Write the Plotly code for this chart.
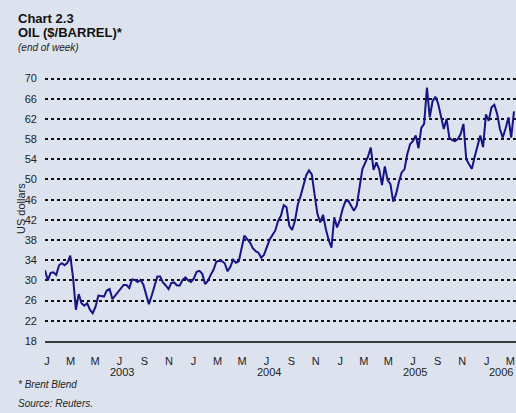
import pandas as pd
import plotly.graph_objects as go

# Weekly Brent oil price, $/barrel (end of week), first week ending 27 Dec 2002
first_week = "2002-12-27"
oil = [
    32.0, 30.0, 31.5, 31.6, 31.1, 33.0, 33.4, 33.0, 33.5, 34.9,
    30.5, 24.2, 27.3, 25.5, 25.0, 25.5, 24.2, 23.5, 24.8, 27.0,
    26.9, 26.8, 28.0, 28.3, 26.3, 27.0, 27.9, 28.6, 29.1, 29.1,
    28.5, 30.2, 30.1, 29.7, 30.1, 29.2, 27.2, 25.3, 27.0, 29.0,
    30.8, 30.8, 29.6, 29.0, 28.3, 29.5, 29.6, 29.0, 29.0, 30.1,
    30.6, 30.0, 29.7, 30.4, 31.7, 31.9, 31.3, 29.3, 29.9, 31.1,
    32.1, 33.7, 33.9, 33.8, 33.4, 31.8, 32.7, 34.1, 33.5, 33.8,
    36.4, 38.9, 38.2, 37.5, 36.4, 35.8, 35.5, 34.5, 35.1, 36.5,
    38.1, 39.0, 39.9, 41.8, 42.8, 44.9, 44.5, 40.8, 40.0, 41.8,
    45.0, 46.7, 48.8, 50.8, 51.8, 51.0, 47.0, 43.2, 41.5, 43.0,
    40.2, 38.0, 36.5, 42.5, 40.5, 42.0, 44.2, 45.7, 45.8, 44.8,
    43.8, 44.8, 48.2, 52.0, 53.3, 54.5, 56.3, 51.9, 53.4, 52.0,
    48.9, 52.6, 49.9, 49.1, 45.6, 47.1, 49.5, 51.4, 52.0, 55.0,
    57.0, 57.6, 58.7, 56.2, 60.2, 61.0, 68.2, 62.3, 65.5, 66.4,
    65.0, 62.5, 60.0, 62.0, 58.2, 57.8, 57.6, 58.0, 59.0, 61.0,
    54.0, 53.0, 52.1, 54.5, 56.5, 58.7, 56.4, 62.9, 61.6, 64.3,
    64.8, 63.0, 60.0, 58.3, 60.1, 62.3, 58.3, 63.5,
]
dates = pd.date_range(first_week, periods=len(oil), freq="7D")

# Axis labelling
y_ticks = list(range(18, 71, 4))
month_letters = ["J", "F", "M", "A", "M", "J", "J", "A", "S", "O", "N", "D"]
x_start, x_end = "2002-12-27", "2006-03-15"
month_ticks = [d for d in pd.date_range("2003-01-01", "2006-03-01", freq="MS") if d.month % 2 == 1]
month_text = [month_letters[d.month - 1] for d in month_ticks]
years = ["2003", "2004", "2005", "2006"]

title_main = "Chart 2.3"
title_sub = "OIL ($/BARREL)*"
title_note = "(end of week)"
foot_note = "* Brent Blend"
source = "Source: Reuters."
y_title = "US dollars"

BG = "#dde3ee"
FONT = "Liberation Sans, Arial, sans-serif"

fig = go.Figure()
fig.add_trace(go.Scatter(
    x=dates, y=oil, mode="lines",
    line=dict(color="#151585", width=2),
    showlegend=False, hoverinfo="skip",
))

# plot area geometry (pixels) for placing text annotations
W, H = 516, 413
L, R, T, B = 45, 0, 77, 72
pw, ph = W - L - R, H - T - B

def px(xp):
    return (xp - L) / pw

def py(yp):
    return (H - B - yp) / ph

annos = []
annos.append(dict(text="<b>" + title_main + "</b>", x=px(16), y=py(19), font=dict(size=13, color="#111")))
annos.append(dict(text="<b>" + title_sub + "</b>", x=px(16), y=py(33), font=dict(size=13, color="#111")))
annos.append(dict(text="<i>" + title_note + "</i>", x=px(16), y=py(47), font=dict(size=10, color="#222")))
annos.append(dict(text="<i>" + foot_note + "</i>", x=px(16), y=py(384), font=dict(size=10, color="#222")))
annos.append(dict(text="<i>" + source + "</i>", x=px(16), y=py(403), font=dict(size=10, color="#222")))
for a in annos:
    a.update(xref="paper", yref="paper", xanchor="left", yanchor="middle", showarrow=False)

fig.add_annotation(text=y_title, textangle=-90, xref="paper", yref="paper",
                   x=px(21), y=py(209), xanchor="center", yanchor="middle",
                   showarrow=False, font=dict(size=11, color="#222"))

# year labels centred on the labelled part of each year
rs, re_ = pd.Timestamp(x_start), pd.Timestamp(x_end)
for yr in years:
    a0 = max(pd.Timestamp(yr + "-01-01"), rs)
    a1 = min(pd.Timestamp(yr + "-12-31"), re_ - pd.Timedelta(days=14))
    mid = a0 + (a1 - a0) / 2 + pd.Timedelta(days=5)
    fig.add_annotation(text=yr, x=mid, xref="x", y=py(372), yref="paper",
                       xanchor="center", yanchor="middle", showarrow=False,
                       font=dict(size=11, color="#222"))

for a in annos:
    fig.add_annotation(**a)

fig.update_layout(
    width=W, height=H,
    margin=dict(l=L, r=R, t=T, b=B, pad=0),
    paper_bgcolor=BG, plot_bgcolor=BG,
    font=dict(family=FONT, size=11, color="#222"),
    xaxis=dict(
        type="date", range=[x_start, x_end],
        tickvals=month_ticks, ticktext=month_text,
        showgrid=False, zeroline=False,
        showline=True, linecolor="#3a3a3a", linewidth=2,
        ticks="", ticklabelstandoff=9,
        tickfont=dict(size=11, color="#222"),
    ),
    yaxis=dict(
        range=[18, 70.3], tickvals=y_ticks,
        showgrid=True, gridcolor="#111111", gridwidth=2, griddash="3px,3px",
        zeroline=False, showline=False, ticks="", ticklabelstandoff=7,
        tickfont=dict(size=11, color="#222"),
    ),
)

fig.write_html(
    "out.html",
    config={"displayModeBar": False},
    post_script="document.body.style.margin='0';document.body.style.background='" + BG + "';",
)
